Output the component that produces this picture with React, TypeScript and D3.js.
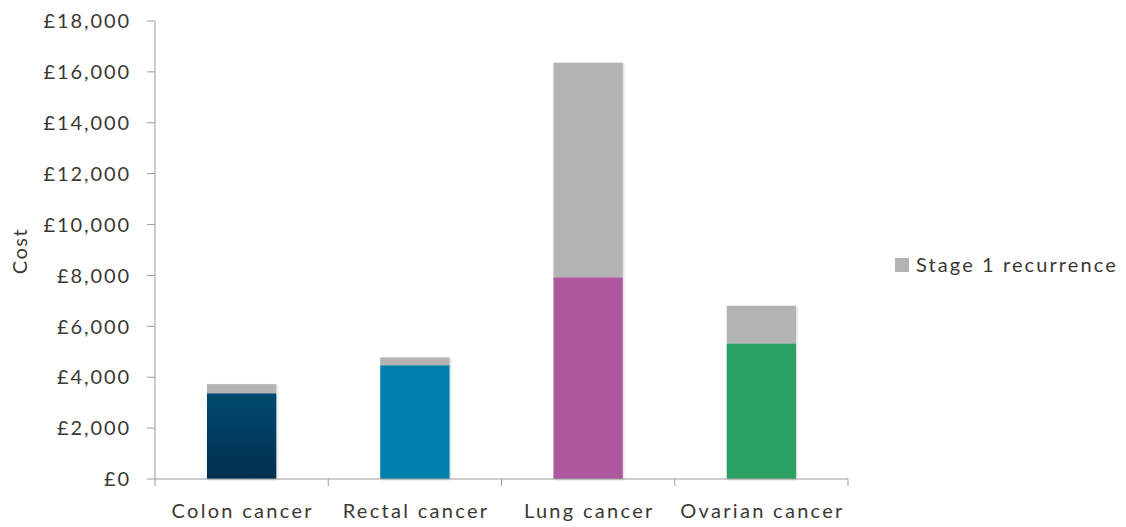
import React from "react";
import * as d3 from "d3";

// Treatment cost by cancer type, with the added cost of a stage 1 recurrence stacked on top
const categories = ["Colon cancer", "Rectal cancer", "Lung cancer", "Ovarian cancer"];
const baseCost = [3370, 4470, 7930, 5330];
const recurrenceCost = [360, 310, 8430, 1480];
const baseColors = ["#023f61", "#0180ad", "#ad599e", "#2ca162"];
const yTicks = [0, 2000, 4000, 6000, 8000, 10000, 12000, 14000, 16000, 18000];
const legendLabel = "Stage 1 recurrence";
const yTitle = "Cost";

const W = 1126;
const H = 527;
const margin = { left: 155, right: 278, top: 21, bottom: 48 };
const FONT = "Lato, 'Noto Sans', sans-serif";
const TEXT = "#3b3832";
const AXIS = "#9b9b9b";
const GREY = "#b3b3b3";
const SPACING = 2.3;

export default function App() {
  const x = d3
    .scaleBand<string>()
    .domain(categories)
    .range([margin.left, W - margin.right])
    .paddingInner(0.6)
    .paddingOuter(0.3);
  const band = d3.scaleBand<string>().domain(categories).range([margin.left, W - margin.right]);
  const y = d3.scaleLinear().domain([0, 18000]).range([H - margin.bottom, margin.top]);
  const fmt = (v: number) => "£" + d3.format(",")(v);
  const y0 = y(0);

  return (
    <svg
      width={W}
      height={H}
      style={{ position: "absolute", left: 0, top: 0, background: "#fff" }}
      fontFamily={FONT}
    >
      <defs>
        <linearGradient id="colonGrad" x1="0" y1="0" x2="0" y2="1">
          <stop offset="0" stopColor="#054a6f" />
          <stop offset="1" stopColor="#002f4f" />
        </linearGradient>
        <filter id="barShadow" x="-10%" y="-10%" width="120%" height="120%">
          <feDropShadow dx="1" dy="1" stdDeviation="1" floodColor="#000" floodOpacity="0.18" />
        </filter>
      </defs>

      {/* stacked bars */}
      {categories.map((c, i) => {
        const bx = x(c)!;
        const bw = x.bandwidth();
        const top1 = y(baseCost[i]);
        const top2 = y(baseCost[i] + recurrenceCost[i]);
        return (
          <g key={c} filter="url(#barShadow)">
            <rect x={bx} y={top1} width={bw} height={y0 - top1} fill={i === 0 ? "url(#colonGrad)" : baseColors[i]} />
            <rect x={bx} y={top2} width={bw} height={top1 - top2} fill={GREY} />
          </g>
        );
      })}

      {/* y axis */}
      <line x1={margin.left} x2={margin.left} y1={y(18000)} y2={y0} stroke={AXIS} strokeWidth={1} />
      {yTicks.map((t) => (
        <g key={t}>
          <line x1={margin.left - 8} x2={margin.left} y1={y(t)} y2={y(t)} stroke={AXIS} />
          <text
            x={131}
            y={y(t)}
            dy="0.36em"
            textAnchor="end"
            fontSize={20}
            letterSpacing={1.9}
            fill={TEXT}
          >
            {fmt(t)}
          </text>
        </g>
      ))}

      {/* x axis */}
      <line x1={margin.left} x2={W - margin.right} y1={y0} y2={y0} stroke={AXIS} />
      {[...categories.map((c) => band(c)!), W - margin.right].map((p, i) => (
        <line key={i} x1={p} x2={p} y1={y0} y2={y0 + 7} stroke={AXIS} />
      ))}
      {categories.map((c) => (
        <text
          key={c}
          x={x(c)! + x.bandwidth() / 2 + SPACING / 2}
          y={518}
          textAnchor="middle"
          fontSize={20}
          letterSpacing={SPACING}
          fill={TEXT}
        >
          {c}
        </text>
      ))}

      {/* y title */}
      <text
        transform={`translate(27,251) rotate(-90)`}
        textAnchor="middle"
        fontSize={20}
        letterSpacing={1.5}
        fill={TEXT}
      >
        {yTitle}
      </text>

      {/* legend */}
      <rect x={895} y={258} width={14} height={14} fill={GREY} />
      <text x={916} y={272} fontSize={20} letterSpacing={2.1} fill={TEXT}>
        {legendLabel}
      </text>
    </svg>
  );
}
